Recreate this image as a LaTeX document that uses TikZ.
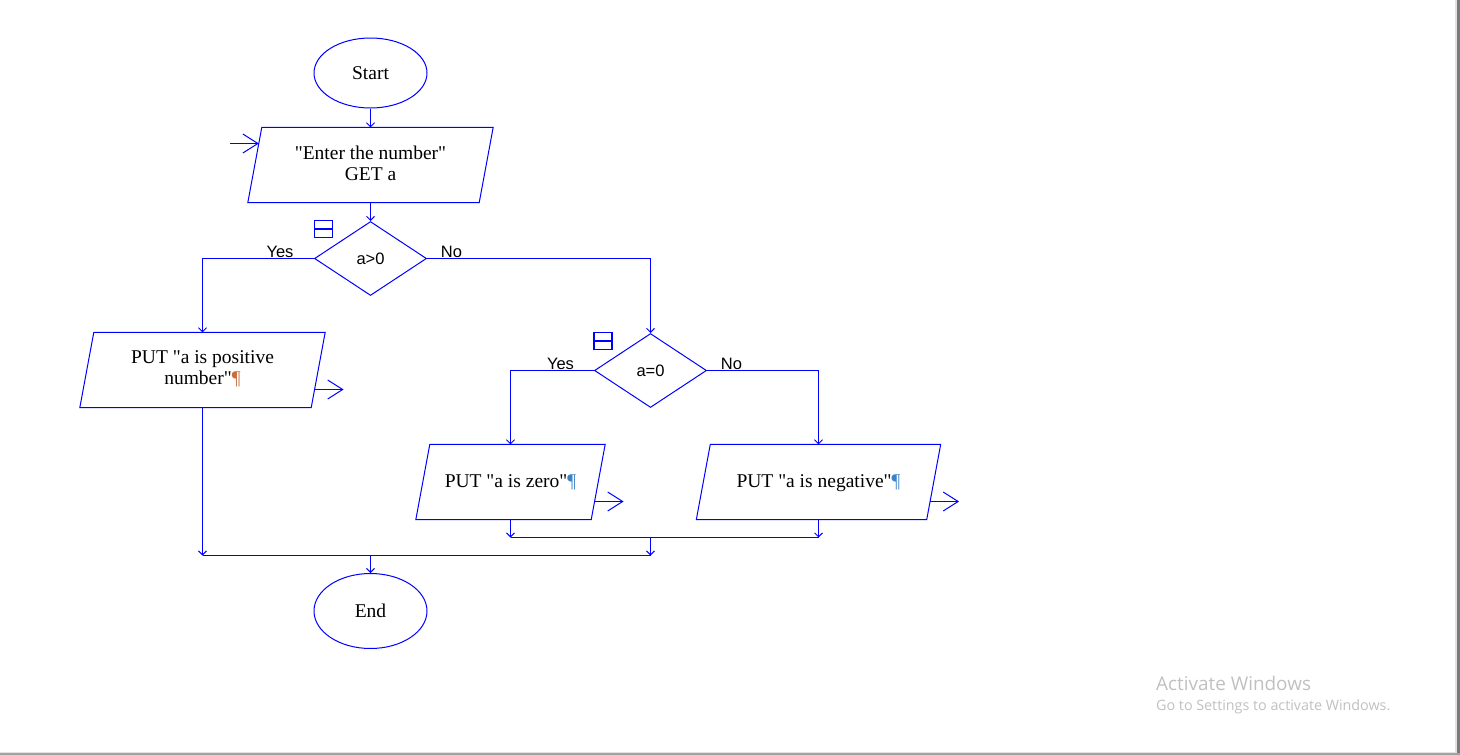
\documentclass[tikz,border=0pt]{standalone}
\usepackage{fontspec}
\setmainfont{Liberation Serif}[Ligatures=TeXOff]
\setsansfont{Liberation Sans}
\newfontfamily\wmfont{Open Sans}
\usetikzlibrary{shapes.geometric,arrows.meta}

\definecolor{fc}{RGB}{0,0,255}
\definecolor{wmgray}{RGB}{192,192,192}
\definecolor{edgelight}{RGB}{226,226,226}
\definecolor{edgedark}{RGB}{122,122,122}
\definecolor{pilcrowA}{RGB}{200,110,60}
\definecolor{pilcrowB}{RGB}{60,130,200}

% straight double quote and centred multi-line text, moved without changing its size
\newcommand\dq{\symbol{34}}
\newcommand\boxtext[2]{\raisebox{#1}[\height][\depth]{\begin{tabular}{@{}c@{}}#2\end{tabular}}}

\tikzset{
  serifbig/.style={font=\fontsize{19.5}{21}\selectfont},
  sanslbl/.style={font=\sffamily\fontsize{16.5}{18}\selectfont},
  term/.style={ellipse, draw=fc, line width=1pt, minimum width=113pt,
    minimum height=70pt, inner sep=0pt, serifbig},
  dec/.style={diamond, draw=fc, line width=1pt, minimum width=112pt,
    minimum height=74pt, inner sep=0pt, sanslbl},
  iobox/.style={minimum height=75pt, inner sep=0pt, serifbig},
  lbl/.style={sanslbl, inner sep=0pt, anchor=base},
  icon/.style={draw=fc, line width=1.3pt, minimum width=18pt, minimum height=17pt,
    inner sep=0pt, path picture={\draw[fc, line width=1.3pt]
      (path picture bounding box.west) -- (path picture bounding box.east);}},
  ln/.style={draw=fc, line width=1pt},
  cn/.style={ln, -{Straight Barb[length=4pt,width=8pt,line width=0.9pt]}},
  big/.style={ln, -{Straight Barb[length=15pt,width=19pt,line width=1pt]}},
  wm/.style={inner sep=0pt, anchor=base west, text=wmgray},
}

\begin{document}
\begin{tikzpicture}[x=1pt,y=-1pt]
\useasboundingbox (0,0) rectangle (1460,755);

% window frame edges
\fill[edgelight] (1455,0) rectangle (1457,755);
\fill[edgedark] (1457,0) rectangle (1460,755);
\fill[edgelight] (0,751.7) rectangle (1457,753);
\fill[edgedark!70] (0,753) rectangle (1460,755);

% terminals, decisions and input/output boxes
\node[term] (start) at (370.5,73) {Start};
\node[iobox, minimum width=231pt] (in) at (370.5,165)
  {\boxtext{-1pt}{\dq Enter the number\dq\\GET a}};
\node[dec] (d1) at (370.5,258.5) {a>0};
\node[iobox, minimum width=231pt] (pos) at (202.5,370)
  {\boxtext{0.5pt}{PUT \dq a is positive\\number\dq{\color{pilcrowA}¶}}};
\node[dec] (d2) at (650.5,370.5) {a=0};
\node[iobox, minimum width=175pt] (zero) at (510.5,482)
  {\boxtext{-1pt}{PUT \dq a is zero\dq{\color{pilcrowB}¶}}};
\node[iobox, minimum width=230pt] (neg) at (818.5,482)
  {\boxtext{-1pt}{PUT \dq a is negative\dq{\color{pilcrowB}¶}}};
\node[term, minimum height=75pt] (end) at (370.5,611) {End};

% parallelogram outlines around the input/output boxes
\foreach \n in {in,pos,zero,neg}
  \draw[ln] ([xshift=7pt]\n.north west) -- ([xshift=7pt]\n.north east)
    -- ([xshift=-7pt]\n.south east) -- ([xshift=-7pt]\n.south west) -- cycle;

% collapse icons beside the decisions
\node[icon] (i1) at (323.5,229) {};
\node[icon] (i2) at (603,341) {};

% branch labels
\node[lbl] (y1) at (280,257.5) {Yes};
\node[lbl] (n1) at (451.5,257.5) {No};
\node[lbl] (y2) at (560.5,369.5) {Yes};
\node[lbl] (n2) at (731.5,369.5) {No};

% junction points
\coordinate (j1) at (650.5,537.5);
\coordinate (j2) at (370.5,555.5);
\coordinate (src) at (230,143.5);

% main flow
\draw[cn] (start) -- (in);
\draw[cn] (in) -- (d1);
\draw[cn] (d1.west) -| (pos.north);
\draw[cn] (d1.east) -| (d2.north);
\draw[cn] (d2.west) -| (zero.north);
\draw[cn] (d2.east) -| (neg.north);
\draw[cn] (zero.south) -- (zero.south |- j1);
\draw[cn] (neg.south) -- (neg.south |- j1);
\draw[ln] (zero.south |- j1) -- (neg.south |- j1);
\draw[cn] (j1) -- (j1 |- j2);
\draw[cn] (pos.south) -- (pos.south |- j2);
\draw[ln] (pos.south |- j2) -- (j1 |- j2);
\draw[cn] (j2) -- (end);

% entry and exit markers on the input/output boxes
\draw[big] (src) -- ([xshift=4pt,yshift=21.5pt]in.west);
\draw[big] ([xshift=-3.6pt,yshift=-19.5pt]pos.east) -- ++(29,0);
\draw[big] ([xshift=-3.6pt,yshift=-19.5pt]zero.east) -- ++(29,0);
\draw[big] ([xshift=-3.6pt,yshift=-19.5pt]neg.east) -- ++(29,0);

% watermark text
\node[wm, font=\wmfont\fontsize{18.9}{20}\selectfont] (w1) at (1156,690) {Activate Windows};
\node[wm, font=\wmfont\fontsize{14.3}{16}\selectfont] (w2) at (1156,710) {Go to Settings to activate Windows.};
\end{tikzpicture}
\end{document}
